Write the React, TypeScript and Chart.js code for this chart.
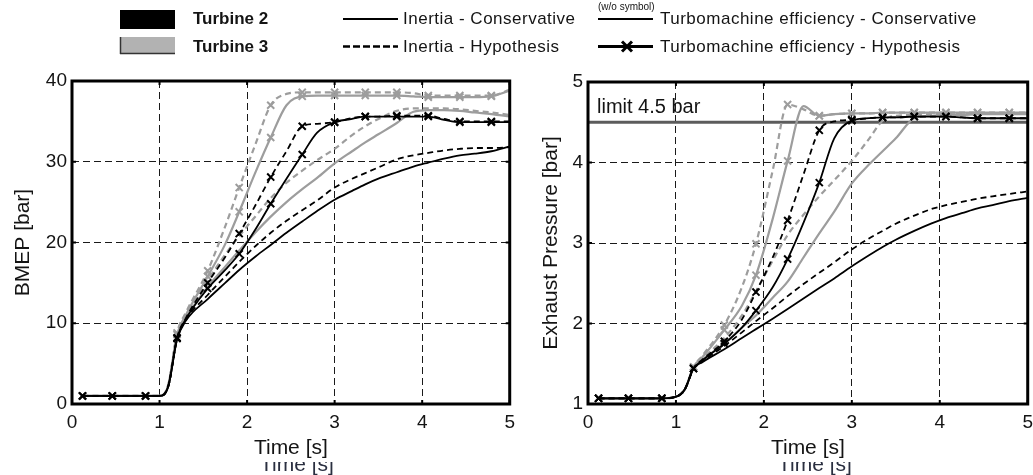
import React, { useEffect, useRef } from "react";
import { Chart, registerables } from "chart.js";

Chart.register(...registerables);

// ---------- data ----------
const TIME = [0.12, 0.46, 0.84, 1.0, 1.1, 1.2, 1.3, 1.55, 1.75, 1.91, 2.1, 2.27, 2.45, 2.63, 2.8, 3.0, 3.2, 3.35, 3.5, 3.71, 3.9, 4.07, 4.25, 4.43, 4.6, 4.79, 5.0];
const MARKER_TIMES = [0.12, 0.46, 0.84, 1.2, 1.55, 1.91, 2.27, 2.63, 3.0, 3.35, 3.71, 4.07, 4.43, 4.79];
const X_TICKS = [0, 1, 2, 3, 4, 5];
const BMEP_TICKS = [0, 10, 20, 30, 40];
const PRESSURE_TICKS = [1, 2, 3, 4, 5];
const PRESSURE_LIMIT = 4.5;

// BMEP [bar] — Turbine 2 (black) / Turbine 3 (grey); inertia x turbomachine efficiency
const BMEP_T2_CONS_CONS = [1, 1, 1, 1, 2.2, 8.0, 10.3, 13.0, 15.0, 16.6, 18.3, 19.7, 21.2, 22.6, 23.9, 25.3, 26.4, 27.2, 27.9, 28.7, 29.4, 29.9, 30.4, 30.8, 31.0, 31.3, 31.9];
const BMEP_T2_HYP_CONS = [1, 1, 1, 1, 2.2, 8.0, 10.4, 13.5, 15.8, 17.6, 19.6, 21.2, 22.7, 24.0, 25.2, 26.8, 27.9, 28.6, 29.3, 30.3, 30.8, 31.1, 31.4, 31.6, 31.7, 31.7, 31.8];
const BMEP_T2_CONS_HYP = [1, 1, 1, 1, 2.2, 8.1, 10.5, 14.3, 16.6, 18.6, 21.7, 24.8, 27.9, 30.9, 33.6, 34.9, 35.3, 35.6, 35.6, 35.6, 35.6, 35.6, 35.2, 34.9, 34.9, 34.9, 34.9];
const BMEP_T2_HYP_HYP = [1, 1, 1, 1, 2.2, 8.2, 10.6, 15.0, 18.2, 21.1, 24.7, 28.1, 31.3, 34.4, 34.7, 34.9, 35.4, 35.6, 35.6, 35.7, 35.7, 35.7, 35.3, 35.0, 35.0, 35.0, 35.0];
const BMEP_T3_CONS_CONS = [1, 1, 1, 1, 2.3, 8.4, 10.6, 14.5, 17.0, 19.0, 21.3, 23.2, 25.0, 26.6, 28.0, 29.8, 31.3, 32.4, 33.4, 34.8, 36.2, 36.4, 36.4, 36.3, 36.1, 35.9, 35.6];
const BMEP_T3_HYP_CONS = [1, 1, 1, 1, 2.3, 8.5, 10.8, 15.3, 18.5, 20.8, 23.3, 25.5, 27.4, 28.9, 30.2, 31.6, 33.3, 34.4, 35.3, 36.3, 36.6, 36.6, 36.6, 36.5, 36.3, 36.1, 35.8];
const BMEP_T3_CONS_HYP = [1, 1, 1, 1, 2.3, 8.6, 11.0, 15.8, 19.8, 23.8, 28.8, 33.0, 37.0, 38.1, 38.2, 38.2, 38.2, 38.2, 38.2, 38.2, 38.1, 38.0, 38.0, 38.0, 38.0, 38.1, 38.8];
const BMEP_T3_HYP_HYP = [1, 1, 1, 1, 2.4, 8.8, 11.3, 16.5, 22.0, 26.8, 32.3, 37.0, 38.4, 38.6, 38.6, 38.6, 38.6, 38.6, 38.6, 38.6, 38.5, 38.2, 38.2, 38.2, 38.2, 38.2, 38.9];

// Exhaust pressure [bar]
const P_T2_CONS_CONS = [1.07, 1.07, 1.07, 1.09, 1.18, 1.44, 1.52, 1.68, 1.82, 1.93, 2.06, 2.18, 2.31, 2.44, 2.56, 2.71, 2.85, 2.95, 3.04, 3.15, 3.24, 3.31, 3.37, 3.43, 3.47, 3.52, 3.56];
const P_T2_HYP_CONS = [1.07, 1.07, 1.07, 1.09, 1.18, 1.44, 1.53, 1.72, 1.89, 2.03, 2.19, 2.34, 2.49, 2.63, 2.76, 2.92, 3.06, 3.15, 3.24, 3.34, 3.42, 3.47, 3.51, 3.55, 3.58, 3.61, 3.64];
const P_T2_CONS_HYP = [1.07, 1.07, 1.07, 1.09, 1.18, 1.44, 1.54, 1.75, 1.95, 2.16, 2.45, 2.80, 3.25, 3.75, 4.30, 4.52, 4.55, 4.56, 4.56, 4.57, 4.57, 4.57, 4.56, 4.55, 4.55, 4.55, 4.55];
const P_T2_HYP_HYP = [1.07, 1.07, 1.07, 1.09, 1.18, 1.44, 1.55, 1.78, 2.05, 2.39, 2.82, 3.28, 3.85, 4.40, 4.51, 4.53, 4.55, 4.56, 4.56, 4.57, 4.57, 4.57, 4.56, 4.55, 4.55, 4.55, 4.55];
const P_T3_CONS_CONS = [1.07, 1.07, 1.07, 1.09, 1.18, 1.45, 1.55, 1.75, 1.95, 2.10, 2.32, 2.52, 2.82, 3.12, 3.39, 3.74, 3.98, 4.14, 4.30, 4.55, 4.58, 4.59, 4.59, 4.60, 4.60, 4.60, 4.60];
const P_T3_HYP_CONS = [1.07, 1.07, 1.07, 1.09, 1.18, 1.45, 1.56, 1.82, 2.10, 2.40, 2.78, 3.10, 3.35, 3.58, 3.78, 4.02, 4.30, 4.52, 4.58, 4.59, 4.60, 4.60, 4.60, 4.61, 4.61, 4.61, 4.61];
const P_T3_CONS_HYP = [1.07, 1.07, 1.07, 1.09, 1.18, 1.46, 1.58, 1.92, 2.22, 2.60, 3.30, 4.02, 4.70, 4.58, 4.60, 4.61, 4.61, 4.62, 4.62, 4.62, 4.62, 4.62, 4.62, 4.62, 4.62, 4.62, 4.62];
const P_T3_HYP_HYP = [1.07, 1.07, 1.07, 1.09, 1.18, 1.46, 1.60, 1.98, 2.45, 2.99, 3.90, 4.72, 4.66, 4.58, 4.60, 4.61, 4.61, 4.62, 4.62, 4.62, 4.62, 4.62, 4.62, 4.62, 4.62, 4.62, 4.62];

// ---------- styling ----------
const FONT = '"Liberation Sans", Arial, Helvetica, sans-serif';
const BLACK = "#000000";
const GREY = "#9d9d9d";
const TEXT = "#141414";

function pts(vals: number[]) {
  return TIME.map((t, i) => ({ x: t, y: vals[i] }));
}

function series(label: string, vals: number[], color: string, dashed: boolean, marker: boolean) {
  return {
    label,
    data: pts(vals),
    borderColor: color,
    backgroundColor: color,
    borderWidth: color === BLACK ? 1.8 : 2.2,
    borderDash: dashed ? [6, 4] : [],
    pointStyle: "crossRot",
    pointRadius: marker ? (c: any) => (MARKER_TIMES.includes(TIME[c.dataIndex]) ? 5 : 0) : 0,
    pointBorderColor: color,
    pointBorderWidth: 2,
    pointHoverRadius: 0,
    cubicInterpolationMode: "monotone",
    fill: false,
  };
}

const framePlugin = {
  id: "frame",
  afterDraw(chart: any) {
    const { ctx, chartArea: a, scales } = chart;
    ctx.save();
    ctx.strokeStyle = "#000";
    ctx.lineWidth = 2;
    ctx.setLineDash([]);
    const xs = scales.x;
    const ys = scales.y;
    xs.ticks.forEach((t: any) => {
      const px = xs.getPixelForValue(t.value);
      ctx.beginPath();
      ctx.moveTo(px, a.top);
      ctx.lineTo(px, a.top + 4);
      ctx.moveTo(px, a.bottom);
      ctx.lineTo(px, a.bottom - 4);
      ctx.stroke();
    });
    ys.ticks.forEach((t: any) => {
      const py = ys.getPixelForValue(t.value);
      ctx.beginPath();
      ctx.moveTo(a.left, py);
      ctx.lineTo(a.left + 4, py);
      ctx.moveTo(a.right, py);
      ctx.lineTo(a.right - 4, py);
      ctx.stroke();
    });
    ctx.lineWidth = 3;
    ctx.strokeRect(a.left, a.top, a.right - a.left, a.bottom - a.top);
    ctx.restore();
  },
};

function axis(min: number, max: number, tickVals: number[], title: string, isX: boolean, fit: number, titlePad: number) {
  return {
    type: "linear",
    min,
    max,
    afterBuildTicks: (s: any) => {
      s.ticks = tickVals.map((v) => ({ value: v }));
    },
    ticks: {
      color: TEXT,
      font: { family: FONT, size: 19 },
      padding: isX ? 7 : 5,
      maxRotation: 0,
      autoSkip: false,
    },
    grid: { color: "#1a1a1a", lineWidth: 1, drawTicks: false },
    border: { display: false, dash: [7, 4] },
    title: {
      display: true,
      text: title,
      color: TEXT,
      font: { family: FONT, size: 21 },
      padding: isX ? { top: 0, bottom: titlePad } : { top: titlePad, bottom: 0 },
    },
    afterFit: (s: any) => {
      if (isX) s.height = fit;
      else s.width = fit;
    },
  };
}

function baseOptions(padTop: number, yAxis: any) {
  return {
    responsive: false,
    animation: false,
    events: [],
    layout: { padding: { top: padTop, right: 0, left: 0, bottom: 0 } },
    plugins: { legend: { display: false }, tooltip: { enabled: false } },
    scales: {
      x: axis(0, 5, X_TICKS, "Time [s]", true, 71, 14),
      y: yAxis,
    },
  };
}

function leftConfig(): any {
  return {
    type: "line",
    data: {
      datasets: [
        series("Turbine 2 - Inertia Conservative / Turbomachine Hypothesis", BMEP_T2_CONS_HYP, BLACK, false, true),
        series("Turbine 2 - Inertia Hypothesis / Turbomachine Hypothesis", BMEP_T2_HYP_HYP, BLACK, true, true),
        series("Turbine 2 - Inertia Hypothesis / Turbomachine Conservative", BMEP_T2_HYP_CONS, BLACK, true, false),
        series("Turbine 2 - Inertia Conservative / Turbomachine Conservative", BMEP_T2_CONS_CONS, BLACK, false, false),
        series("Turbine 3 - Inertia Conservative / Turbomachine Hypothesis", BMEP_T3_CONS_HYP, GREY, false, true),
        series("Turbine 3 - Inertia Hypothesis / Turbomachine Hypothesis", BMEP_T3_HYP_HYP, GREY, true, true),
        series("Turbine 3 - Inertia Hypothesis / Turbomachine Conservative", BMEP_T3_HYP_CONS, GREY, true, false),
        series("Turbine 3 - Inertia Conservative / Turbomachine Conservative", BMEP_T3_CONS_CONS, GREY, false, false),
      ],
    },
    options: baseOptions(81, axis(0, 40, BMEP_TICKS, "BMEP [bar]", false, 72, 11)),
    plugins: [framePlugin],
  };
}

function rightConfig(): any {
  return {
    type: "line",
    data: {
      datasets: [
        series("Turbine 2 - Inertia Conservative / Turbomachine Hypothesis", P_T2_CONS_HYP, BLACK, false, true),
        series("Turbine 2 - Inertia Hypothesis / Turbomachine Hypothesis", P_T2_HYP_HYP, BLACK, true, true),
        series("Turbine 2 - Inertia Hypothesis / Turbomachine Conservative", P_T2_HYP_CONS, BLACK, true, false),
        series("Turbine 2 - Inertia Conservative / Turbomachine Conservative", P_T2_CONS_CONS, BLACK, false, false),
        series("Turbine 3 - Inertia Conservative / Turbomachine Hypothesis", P_T3_CONS_HYP, GREY, false, true),
        series("Turbine 3 - Inertia Hypothesis / Turbomachine Hypothesis", P_T3_HYP_HYP, GREY, true, true),
        series("Turbine 3 - Inertia Hypothesis / Turbomachine Conservative", P_T3_HYP_CONS, GREY, true, false),
        series("Turbine 3 - Inertia Conservative / Turbomachine Conservative", P_T3_CONS_CONS, GREY, false, false),
        {
          label: "limit 4.5 bar",
          data: [
            { x: 0, y: PRESSURE_LIMIT },
            { x: 5, y: PRESSURE_LIMIT },
          ],
          borderColor: "#5c5c5c",
          borderWidth: 3,
          pointRadius: 0,
          fill: false,
        },
      ],
    },
    options: baseOptions(82, axis(1, 5, PRESSURE_TICKS, "Exhaust Pressure [bar]", false, 68, 19)),
    plugins: [framePlugin],
  };
}

function ChartCanvas({ make, left, width }: { make: () => any; left: number; width: number }) {
  const ref = useRef<HTMLCanvasElement>(null);
  useEffect(() => {
    const chart = new Chart(ref.current as HTMLCanvasElement, make());
    return () => chart.destroy();
  }, []);
  return (
    <canvas
      ref={ref}
      width={width}
      height={475}
      style={{ position: "absolute", left, top: 0, width, height: 475 }}
    />
  );
}

function Txt({ x, cy, text, size = 17, bold = false, spacing = 0.5, color = TEXT }: any) {
  return (
    <div
      style={{
        position: "absolute",
        left: x,
        top: cy - 10,
        height: 20,
        lineHeight: "20px",
        fontFamily: FONT,
        fontSize: size,
        fontWeight: bold ? 700 : 400,
        letterSpacing: spacing,
        color,
        whiteSpace: "nowrap",
      }}
    >
      {text}
    </div>
  );
}

function Ghost({ cx }: { cx: number }) {
  return (
    <div style={{ position: "absolute", left: cx - 60, top: 462, width: 120, height: 13, overflow: "hidden" }}>
      <div
        style={{
          position: "absolute",
          top: -9,
          left: 0,
          width: 120,
          textAlign: "center",
          fontFamily: FONT,
          fontSize: 21,
          lineHeight: "21px",
          color: "#2a2f40",
        }}
      >
        Time [s]
      </div>
    </div>
  );
}

export default function App() {
  return (
    <div style={{ position: "absolute", left: 0, top: 0, width: 1033, height: 475, background: "#fff", overflow: "hidden" }}>
      <ChartCanvas make={leftConfig} left={0} width={522} />
      <ChartCanvas make={rightConfig} left={520} width={520} />

      <svg width={1033} height={60} style={{ position: "absolute", left: 0, top: 0 }}>
        <rect x={120} y={10} width={55} height={19} fill="#000" />
        <rect x={120} y={37} width={55} height={17} fill="#b2b2b2" />
        <line x1={120.5} y1={37} x2={120.5} y2={54} stroke="#333" strokeWidth={1.5} />
        <line x1={120} y1={53.5} x2={175} y2={53.5} stroke="#333" strokeWidth={1.5} />
        <line x1={343} y1={19} x2={398} y2={19} stroke="#000" strokeWidth={2} />
        <line x1={343} y1={46.5} x2={398} y2={46.5} stroke="#000" strokeWidth={2.5} strokeDasharray="7 3" />
        <line x1={598} y1={19} x2={653} y2={19} stroke="#000" strokeWidth={2} />
        <line x1={598} y1={46.5} x2={653} y2={46.5} stroke="#000" strokeWidth={3} />
        <line x1={622} y1={41.5} x2={632} y2={51.5} stroke="#000" strokeWidth={3} />
        <line x1={622} y1={51.5} x2={632} y2={41.5} stroke="#000" strokeWidth={3} />
      </svg>

      <Txt x={193} cy={19} text="Turbine 2" bold spacing={0} />
      <Txt x={193} cy={46.5} text="Turbine 3" bold spacing={0} />
      <Txt x={403} cy={19} text="Inertia - Conservative" />
      <Txt x={403} cy={46.5} text="Inertia - Hypothesis" />
      <Txt x={598} cy={7} text="(w/o symbol)" size={10} spacing={0} />
      <Txt x={660} cy={19} text="Turbomachine efficiency - Conservative" />
      <Txt x={660} cy={46.5} text="Turbomachine efficiency - Hypothesis" />

      <div
        style={{
          position: "absolute",
          left: 597,
          top: 96,
          height: 20,
          lineHeight: "20px",
          fontFamily: FONT,
          fontSize: 20,
          color: TEXT,
          whiteSpace: "nowrap",
        }}
      >
        limit 4.5 bar
      </div>

      <Ghost cx={297} />
      <Ghost cx={815} />
    </div>
  );
}
